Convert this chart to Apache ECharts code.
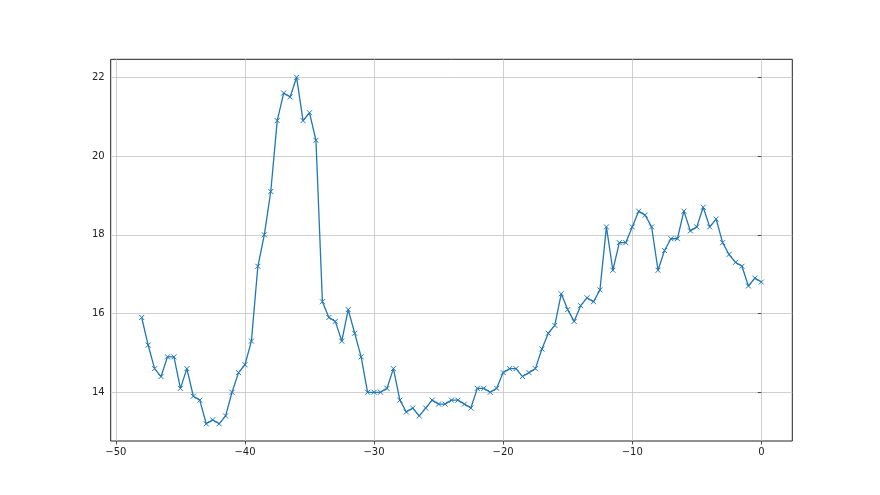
<!DOCTYPE html>
<html>
<head>
<meta charset="utf-8">
<script src="https://cdn.jsdelivr.net/npm/echarts@6/dist/echarts.min.js"></script>
<style>
html,body{margin:0;padding:0;background:#fff;}
#chart{width:880px;height:495px;}
</style>
</head>
<body>
<div id="chart"></div>
<script>
const xValues = [
  -48, -47.5, -47, -46.5, -46, -45.5, -45, -44.5, -44, -43.5,
  -43, -42.5, -42, -41.5, -41, -40.5, -40, -39.5, -39, -38.5,
  -38, -37.5, -37, -36.5, -36, -35.5, -35, -34.5, -34, -33.5,
  -33, -32.5, -32, -31.5, -31, -30.5, -30, -29.5, -29, -28.5,
  -28, -27.5, -27, -26.5, -26, -25.5, -25, -24.5, -24, -23.5,
  -23, -22.5, -22, -21.5, -21, -20.5, -20, -19.5, -19, -18.5,
  -18, -17.5, -17, -16.5, -16, -15.5, -15, -14.5, -14, -13.5,
  -13, -12.5, -12, -11.5, -11, -10.5, -10, -9.5, -9, -8.5,
  -8, -7.5, -7, -6.5, -6, -5.5, -5, -4.5, -4, -3.5,
  -3, -2.5, -2, -1.5, -1, -0.5, 0
];
const yValues = [
  15.9, 15.2, 14.6, 14.4, 14.9, 14.9, 14.1, 14.6, 13.9, 13.8,
  13.2, 13.3, 13.2, 13.4, 14.0, 14.5, 14.7, 15.3, 17.2, 18.0,
  19.1, 20.9, 21.6, 21.5, 22.0, 20.9, 21.1, 20.4, 16.3, 15.9,
  15.8, 15.3, 16.1, 15.5, 14.9, 14.0, 14.0, 14.0, 14.1, 14.6,
  13.8, 13.5, 13.6, 13.4, 13.6, 13.8, 13.7, 13.7, 13.8, 13.8,
  13.7, 13.6, 14.1, 14.1, 14.0, 14.1, 14.5, 14.6, 14.6, 14.4,
  14.5, 14.6, 15.1, 15.5, 15.7, 16.5, 16.1, 15.8, 16.2, 16.4,
  16.3, 16.6, 18.2, 17.1, 17.8, 17.8, 18.2, 18.6, 18.5, 18.2,
  17.1, 17.6, 17.9, 17.9, 18.6, 18.1, 18.2, 18.7, 18.2, 18.4,
  17.8, 17.5, 17.3, 17.2, 16.7, 16.9, 16.8
];
const xTicks = [-50, -40, -30, -20, -10, 0];
const yTicks = [14, 16, 18, 20, 22];

const data = xValues.map((x, i) => [x, yValues[i]]);
const fmt = v => String(v).replace('-', '\u2212');

const chart = echarts.init(document.getElementById('chart'), null, {renderer: 'canvas'});
chart.setOption({
  animation: false,
  backgroundColor: '#fff',
  grid: {
    left: 110.7, right: 87.7, top: 59.3, bottom: 54,
    show: true, borderColor: '#222', borderWidth: 1, backgroundColor: 'transparent'
  },
  xAxis: {
    type: 'value',
    min: -50.4, max: 2.4,
    axisLine: {show: false},
    axisTick: {show: true, inside: false, length: 3.5, customValues: xTicks, lineStyle: {color: '#222', width: 0.8}},
    axisLabel: {customValues: xTicks, formatter: fmt, color: '#222', fontFamily: 'DejaVu Sans', fontSize: 10, margin: 6},
    splitLine: {show: true, lineStyle: {color: '#c4c4c4', width: 0.8}}
  },
  yAxis: {
    type: 'value',
    min: 12.763, max: 22.457,
    axisLine: {show: false},
    axisTick: {show: true, inside: false, length: 3.5, customValues: yTicks, lineStyle: {color: '#222', width: 0.8}},
    axisLabel: {customValues: yTicks, formatter: fmt, color: '#222', fontFamily: 'DejaVu Sans', fontSize: 10, margin: 6},
    splitLine: {show: true, lineStyle: {color: '#c4c4c4', width: 0.8}}
  },
  series: [{
    type: 'line',
    data: data,
    lineStyle: {color: '#1f77b4', width: 1.3},
    symbol: 'path://M0,0L10,10M10,0L0,10',
    symbolSize: 5,
    showSymbol: true,
    itemStyle: {color: '#1f77b4', borderColor: '#1f77b4', borderWidth: 1},
    z: 3
  }]
});
</script>
</body>
</html>
